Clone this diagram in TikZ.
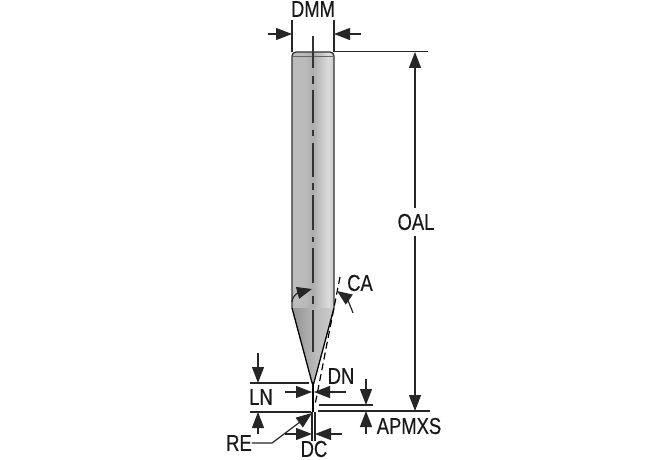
\documentclass[tikz,border=0pt]{standalone}
\usepackage{fontspec}
\setmainfont[FakeStretch=0.8,FakeBold=0.4]{Liberation Sans}
\usetikzlibrary{arrows.meta}
\pgfdeclarehorizontalshading{shankshade}{100bp}{
  color(0bp)=(black!58); color(12bp)=(black!46); color(25bp)=(black!26);
  color(40bp)=(black!27); color(50bp)=(black!32); color(68bp)=(black!14);
  color(85bp)=(black!30); color(100bp)=(black!55)}
\pgfdeclarehorizontalshading{coneshade}{100bp}{
  color(0bp)=(black!48); color(30bp)=(black!40); color(55bp)=(black!26);
  color(75bp)=(black!20); color(100bp)=(black!32)}
\tikzset{
  dimline/.style={line width=1.2pt, black!85},
  dimarrow/.style={line width=1.2pt, black!85, -{Triangle[length=16pt,width=12pt]}},
  curvearrow/.style={line width=1.2pt, black!85, -{Triangle[length=15pt,width=12pt]}},
  dimtext/.style={inner sep=0pt, font=\fontsize{23}{25}\selectfont, text=black!90},
}
\begin{document}
\begin{tikzpicture}[x=1pt,y=-1pt]
\useasboundingbox (0,0) rectangle (670,460);
\fill[white] (0,0) rectangle (670,460);
%
\shade[shading=shankshade] (292,56) to[out=90, in=180] (296,52) -- (330,52) to[out=0, in=90] (334,56)
-- (334,308) -- (292,308) -- cycle; % Shank
\shade[shading=coneshade] (292,308) -- (334,308) -- (313,384) -- cycle; % Cone
\draw[line width=1.3pt, black!80] (292,308) -- (292,56) to[out=90, in=180] (296,52) -- (330,52)
to[out=0, in=90] (334,56) -- (334,308);
\draw[line width=0.8pt, black!60] (293,56) -- (333,56);
\draw[line width=1.3pt, black] (292,308) -- (312.4,384);
\draw[line width=1.3pt, black] (334,308) -- (313.6,384);
\draw[line width=2pt, black] (313,382) -- (313,412); % Neck
%
\draw[line width=1.1pt, black!80] (313,36) -- (313,68) (313,76) -- (313,84) (313,90) -- (313,123)
(313,130) -- (313,136) (313,143) -- (313,177) (313,183) -- (313,190) (313,195) -- (313,230)
(313,237) -- (313,242) (313,248) -- (313,283) (313,296) -- (313,304) (313,310) -- (313,352); % Axis
\draw[line width=1.2pt, dash pattern=on 7pt off 4pt, black] (340,277) -- (315,405); % Angle
%
% DMM
\node[dimtext] (dmm) at (313,9) {DMM};
\draw[dimline] (292,20) -- (292,52);
\draw[dimline] (334,20) -- (334,52);
\draw[dimarrow] (268,34) -- (292,34);
\draw[dimarrow] (361,34) -- (334,34);
%
% OAL
\draw[dimline] (334,51.5) -- (428,51.5);
\draw[dimline] (318,411) -- (430,411);
\node[dimtext, fill=white, inner ysep=3pt] (oal) at (416,222) {OAL};
\draw[dimarrow] (415,208) -- (415,52);
\draw[dimarrow] (415,236) -- (415,411);
%
% CA
\node[dimtext] (ca) at (360,283) {CA};
\draw[curvearrow] (353,313) to[out=110, in=-35] (337,291);
\draw[curvearrow] (292,302) to[out=85, in=195] (312,289);
%
% LN
\draw[dimline] (250,383) -- (309,383);
\draw[dimline] (250,412) -- (311,412);
\node[dimtext] (ln) at (261,397) {LN};
\draw[dimarrow] (258,353) -- (258,383);
\draw[dimarrow] (258,434) -- (258,412);
%
% DN
\node[dimtext] (dn) at (341,376) {DN};
\draw[dimarrow] (285,392) -- (312,392);
\draw[dimarrow] (346,392) -- (314,392);
%
% APMXS
\draw[dimline] (319,405) -- (373,405);
\node[dimtext] (apmxs) at (409,426) {APMXS};
\draw[dimarrow] (366,379) -- (366,405);
\draw[dimarrow] (366,434) -- (366,411);
%
% DC
\draw[dimline] (312,412) -- (312,441);
\draw[dimline] (315,412) -- (315,441);
\node[dimtext] (dc) at (314,449) {DC};
\draw[dimarrow] (285,434) -- (312,434);
\draw[dimarrow] (342,434) -- (315,434);
%
% RE
\node[dimtext] (re) at (239,443) {RE};
\draw[dimarrow] (re.east) -- (272,443) -- (312,413);
\end{tikzpicture}
\end{document}
